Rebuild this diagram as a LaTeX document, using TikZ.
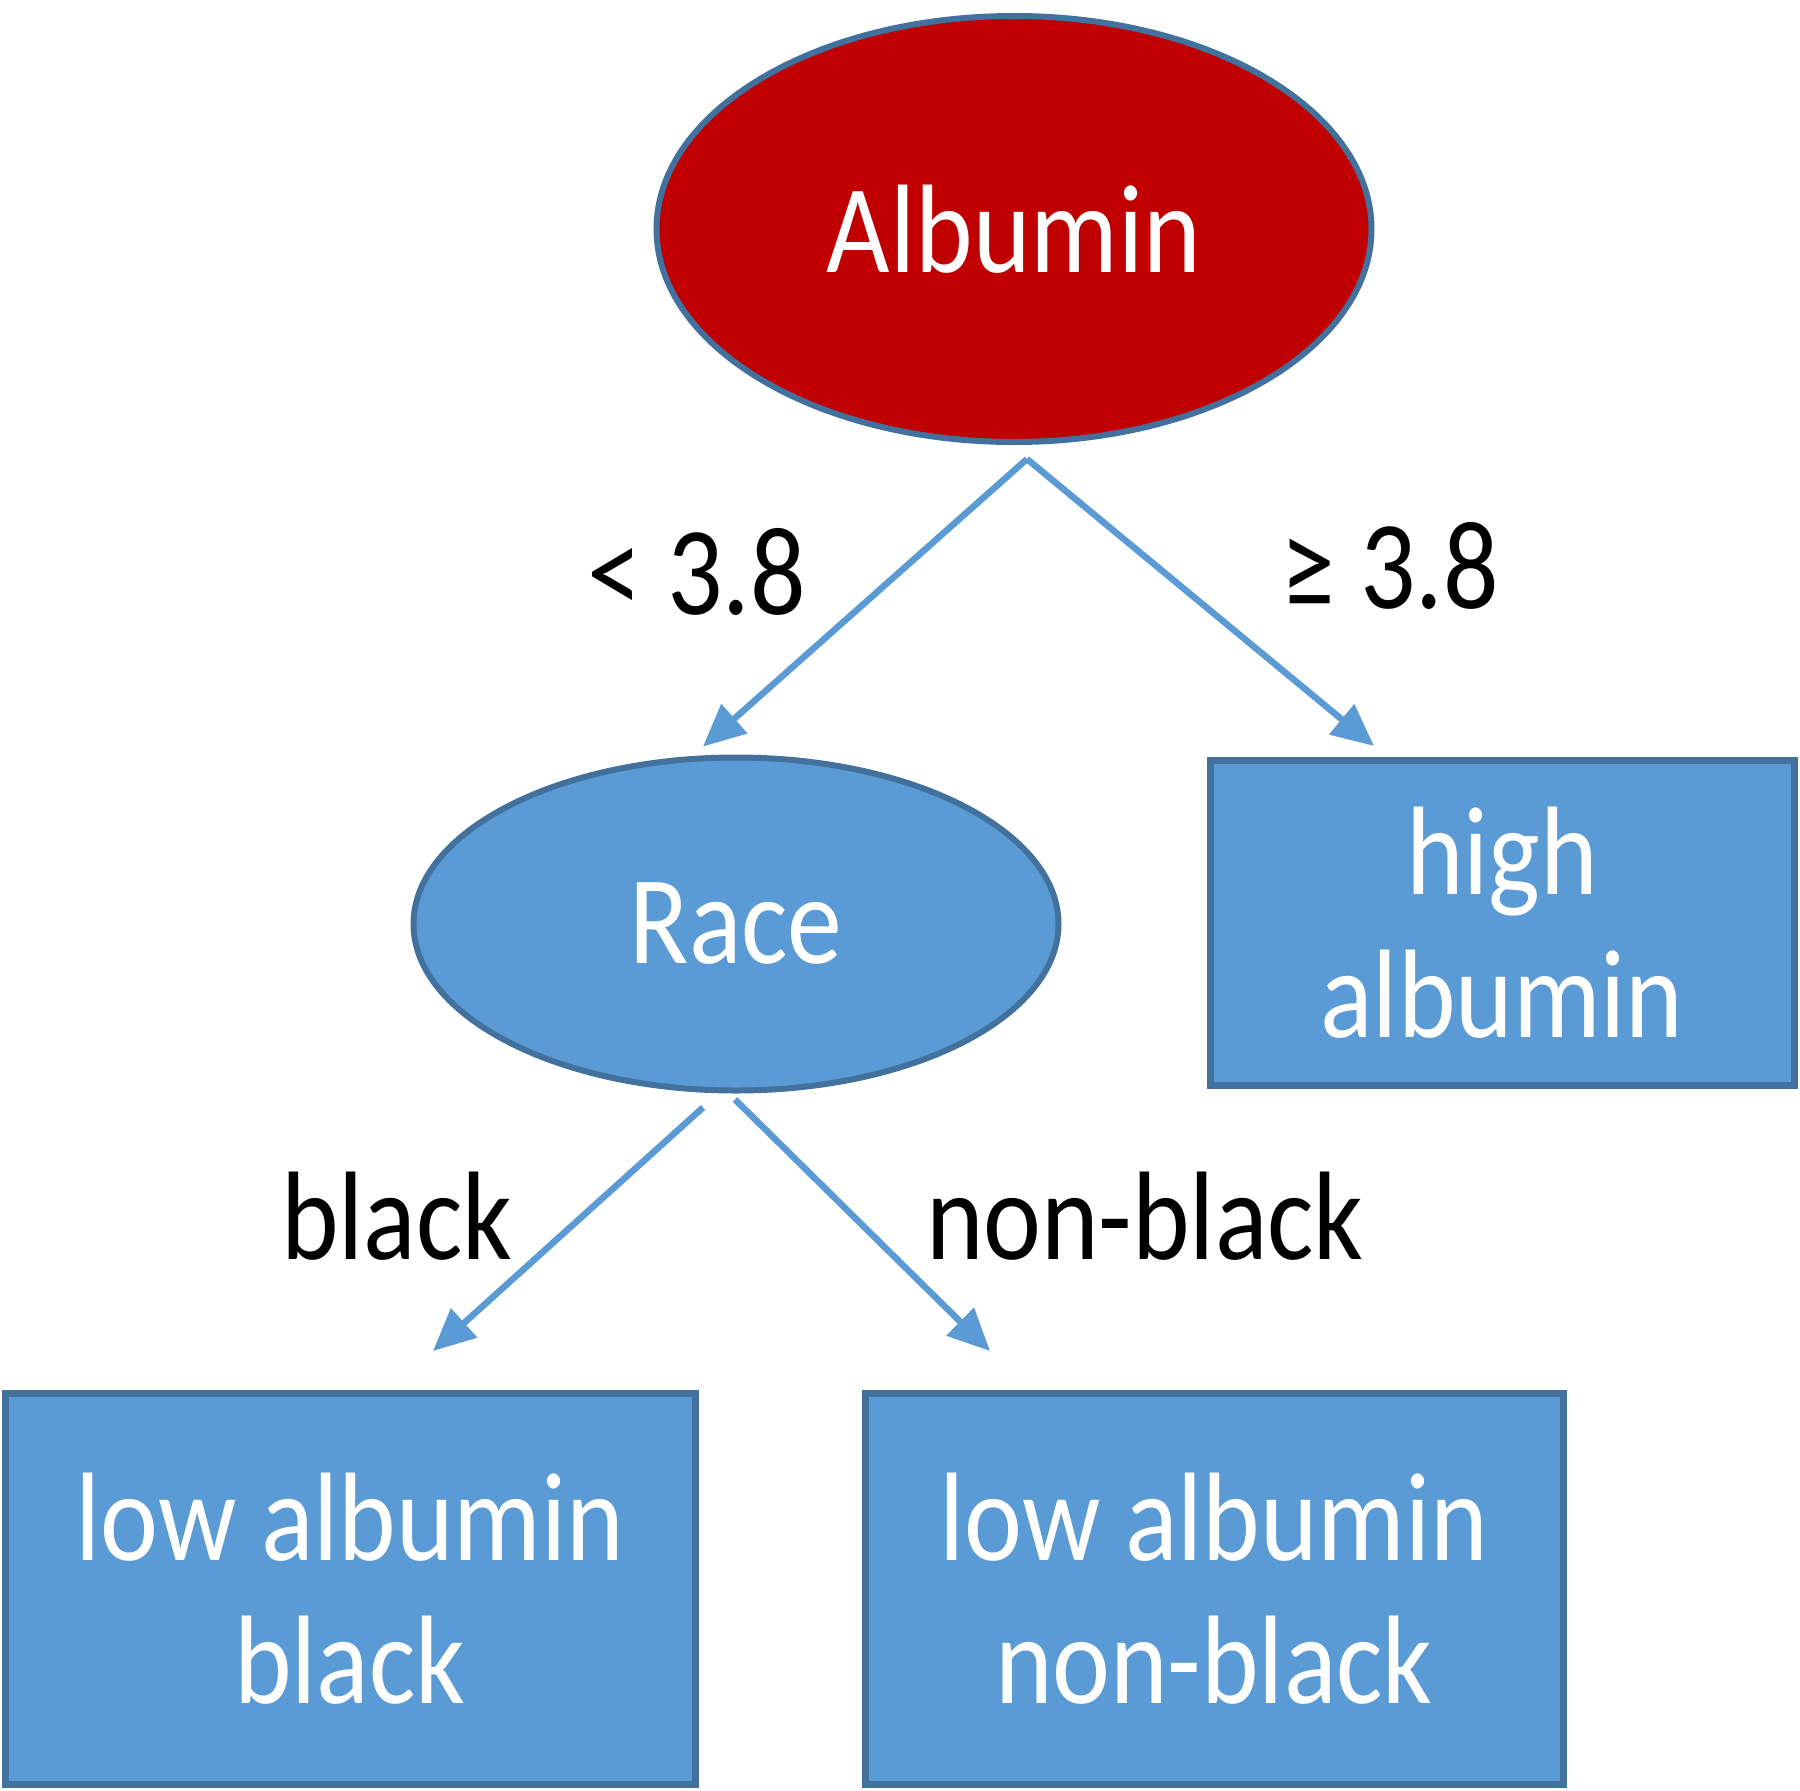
\documentclass[tikz,border=0pt]{standalone}
\usepackage{fontspec}
\setmainfont{Carlito}
\usetikzlibrary{shapes.geometric,arrows.meta}
\definecolor{nodeblue}{HTML}{5B9BD5}
\definecolor{edgeblue}{HTML}{41719C}
\definecolor{darkred}{HTML}{C00000}
\newcommand{\narrow}[1]{\scalebox{0.87}[1]{#1}}
\begin{document}
\begin{tikzpicture}[x=1pt,y=-1pt,
  bigtxt/.style={font=\fontsize{126}{143}\selectfont},
  oval/.style={ellipse, draw=edgeblue, line width=6pt, inner sep=0pt, text=white, bigtxt},
  leaf/.style={rectangle, draw=edgeblue, line width=7pt, fill=nodeblue, text=white, align=center, inner sep=0pt, bigtxt},
  arr/.style={draw=nodeblue, line width=6.5pt, -{Triangle[length=42pt,width=38pt]}},
  lab/.style={text=black, inner sep=0pt, anchor=base, bigtxt}]
\useasboundingbox (0,0) rectangle (1800,1791);
\node[oval, fill=darkred, minimum width=715pt, minimum height=426pt] (alb) at (1014,229) {\narrow{Albumin}};
\node[oval, fill=nodeblue, minimum width=645pt, minimum height=333pt] (race) at (736,924) {\narrow{Race}};
\node[leaf, minimum width=584pt, minimum height=325pt] (high) at (1502,923) {\narrow{high}\\\narrow{albumin}};
\node[leaf, minimum width=690pt, minimum height=391pt] (lowb) at (350,1589) {\narrow{low albumin}\\\narrow{black}};
\node[leaf, minimum width=698pt, minimum height=391pt] (lownb) at (1214,1589) {\narrow{low albumin}\\\narrow{non-black}};
\draw[arr] ([shift={(13,14)}]alb.south) -- ([shift={(-33,-8)}]race.north);
\draw[arr] ([shift={(13,14)}]alb.south) -- ([shift={(-128,-11)}]high.north);
\draw[arr] ([shift={(-33,14)}]race.south) -- ([shift={(83,-39)}]lowb.north);
\draw[arr] ([shift={(-1,6)}]race.south) -- ([shift={(-224,-39)}]lownb.north);
\node[lab] (lt) at (697,614) {\narrow{< 3.8}};
\node[lab] (ge) at (1390,608) {\narrow{≥ 3.8}};
\node[lab] (lb) at (397,1259) {\narrow{black}};
\node[lab] (lnb) at (1145,1259) {\narrow{non-black}};
\end{tikzpicture}
\end{document}
